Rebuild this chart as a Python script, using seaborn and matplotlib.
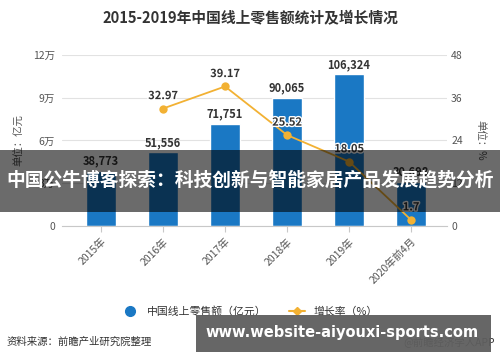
import numpy as np
import pandas as pd
import seaborn as sns
import matplotlib.pyplot as plt
from matplotlib.patches import Rectangle
from matplotlib.lines import Line2D
import matplotlib.patheffects as pe

years = ['2015年', '2016年', '2017年', '2018年', '2019年', '2020年前4月']
sales = [38773, 51556, 71751, 90065, 106324, 30698]
rate_years = ['2016年', '2017年', '2018年', '2019年', '2020年前4月']
rate = [32.97, 39.17, 25.52, 18.05, 1.7]
left_ticks = [0, 30000, 60000, 90000, 120000]
left_labels = ['0', '3万', '6万', '9万', '12万']
right_ticks = [0, 12, 24, 36, 48]

title = '2015-2019年中国线上零售额统计及增长情况'
banner = '中国公牛博客探索：科技创新与智能家居产品发展趋势分析'
site = 'www.website-aiyouxi-sports.com'

sns.set_style('white')
plt.rcParams['font.family'] = ['Noto Sans CJK SC', 'DejaVu Sans']

blue = '#1a78c4'
orange = '#f2b133'
grey = '#555555'

fig = plt.figure(figsize=(5, 3.62), dpi=100)
ax = fig.add_axes([0.124, 0.376, 0.77, 0.472])

df = pd.DataFrame({'year': years, 'sales': sales})
sns.barplot(data=df, x='year', y='sales', color=blue, width=0.47,
            saturation=1, ax=ax, zorder=2)
ax.set_xlim(-0.63, 5.58)
ax.set_ylim(0, 120000)
ax.set_yticks(left_ticks)
ax.set_yticklabels(left_labels)
ax.grid(axis='y', color='#e2e2e2', lw=0.8, zorder=0)
ax.set_axisbelow(True)
for s in ['top', 'left', 'right']:
    ax.spines[s].set_visible(False)
ax.spines['bottom'].set_color('#c8c8c8')
ax.tick_params(axis='y', length=0, labelsize=7.5, colors=grey, pad=5)
ax.tick_params(axis='x', length=4, color='#c8c8c8', labelsize=7.5,
               colors=grey, bottom=True)
plt.setp(ax.get_xticklabels(), rotation=45, ha='right', rotation_mode='anchor')
ax.set_xlabel('')
ax.set_ylabel('单位：亿元', fontsize=7.5, color=grey, labelpad=6)

for i, v in enumerate(sales):
    ax.text(i, v + 2500, f'{v:,}', ha='center', va='bottom', fontsize=8,
            fontweight='bold', color='#333333', zorder=5)

ax2 = ax.twinx()
ax2.set_position(ax.get_position())
xs = [years.index(y) for y in rate_years]
sns.lineplot(x=xs, y=rate, ax=ax2, color=orange, lw=1.3, marker='o',
             markersize=6, markeredgewidth=0, zorder=3)
ax2.set_ylim(0, 48)
ax2.set_yticks(right_ticks)
for s in ['top', 'left', 'right', 'bottom']:
    ax2.spines[s].set_visible(False)
ax2.tick_params(axis='y', length=0, labelsize=7.5, colors=grey, pad=3)
ax2.set_ylabel('单位：%', fontsize=7.5, color=grey, rotation=270, labelpad=16)
for x, v in zip(xs, rate):
    ax2.text(x, v + 1.8, f'{v:g}', ha='center', va='bottom', fontsize=8,
             fontweight='bold', color='#333333', zorder=6,
             path_effects=[pe.withStroke(linewidth=2, foreground='white')])

fig.text(0.5, 0.95, title, ha='center', va='center', fontsize=10.6,
         fontweight='bold', color='#333333')

handles = [Line2D([], [], ls='none', marker='o', color=blue, markersize=7),
           Line2D([], [], color=orange, lw=1.5, marker='D', markersize=4)]
fig.legend(handles, ['中国线上零售额（亿元）', '增长率（%）'], loc='center',
           bbox_to_anchor=(0.5, 0.14), ncol=2, frameon=False, fontsize=7.8,
           handlelength=1.5, columnspacing=2.0, labelcolor='#333333')

fig.text(0.014, 0.055, '资料来源：前瞻产业研究院整理', ha='left', va='center',
         fontsize=7.5, color='#333333')
fig.text(0.99, 0.055, '@前瞻经济学人APP', ha='right', va='center',
         fontsize=7.5, color='#333333')

fig.add_artist(Rectangle((0, 1 - 212 / 362), 1, 62 / 362, transform=fig.transFigure,
                         facecolor='black', alpha=0.58, lw=0, zorder=10))
fig.text(0.5, 1 - 181 / 362, banner, ha='center', va='center', fontsize=13.5,
         fontweight='bold', color='white', zorder=11)

fig.add_artist(Rectangle((196 / 500, 1 - 352 / 362), 295 / 500, 37 / 362,
                         transform=fig.transFigure, facecolor='#5e5e5e',
                         alpha=0.95, lw=0, zorder=10))
fig.text(342 / 500, 1 - 333 / 362, site, ha='center', va='center', fontsize=10.5,
         fontweight='bold', color='white', zorder=11, family='DejaVu Sans')

fig.savefig('out.png', dpi=100)
